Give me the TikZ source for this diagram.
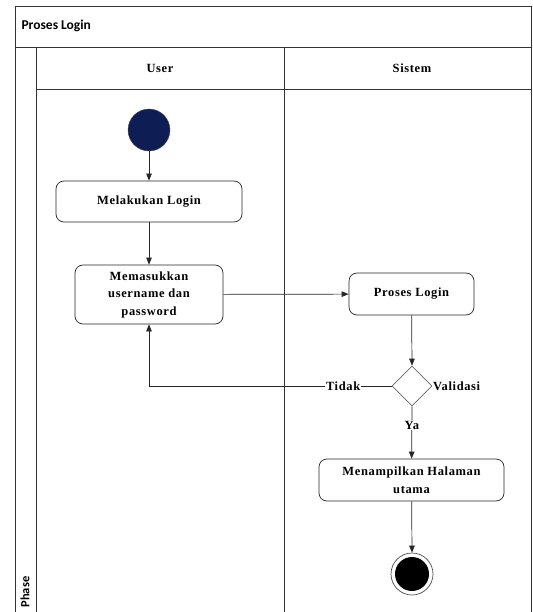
\documentclass[tikz,border=0pt]{standalone}
\usepackage{fontspec}
\setmainfont{Liberation Serif}[LetterSpace=5]
\newfontfamily\titlefont{Carlito}
\usetikzlibrary{shapes.geometric,arrows.meta}
\begin{document}
\begin{tikzpicture}[x=1pt,y=-1pt,
  lane/.style={draw=black!80,line width=0.8pt},
  act/.style={draw=black!85,rounded corners=8pt,line width=0.7pt,font=\bfseries\fontsize{12.5}{17.5}\selectfont,align=center,inner sep=0pt},
  flow/.style={draw=black!85,line width=0.7pt,-{Triangle[length=7pt,width=5.5pt]}},
  lbl/.style={font=\bfseries\fontsize{12.5}{14}\selectfont,inner sep=1pt,fill=white}
]
\useasboundingbox (0,0) rectangle (532,612);
\begin{scope}
\clip (0,0) rectangle (532,612);
% swimlane frame
\draw[lane] (15,620) -- (15,6) -- (540,6);
\draw[lane] (15,47) -- (540,47);
\draw[lane] (36,47) -- (36,620);
\draw[lane] (36,89) -- (540,89);
\draw[lane] (284,47) -- (284,620);
\draw[lane] (531,6) -- (531,620);
\end{scope}
\node[anchor=west,font=\titlefont\bfseries\fontsize{13.5}{15}\selectfont] (title) at (18,26) {Proses Login};
\node[font=\bfseries\fontsize{12.5}{14}\selectfont] (huser) at (160,68) {User};
\node[font=\bfseries\fontsize{12.5}{14}\selectfont] (hsys) at (412,68) {Sistem};
\node[rotate=90,anchor=west,font=\titlefont\bfseries\fontsize{12.5}{14}\selectfont] (phase) at (25,611) {Phase};

% nodes
\node[circle,fill={rgb,255:red,14;green,29;blue,84},draw=black!70,minimum size=42pt,inner sep=0pt] (start) at (149,130) {};
\node[act,minimum width=186pt,minimum height=41pt] (login) at (149,201.5) {Melakukan Login};
\node[act,minimum width=148pt,minimum height=59pt] (input) at (149,294.5) {Memasukkan\\username dan\\password};
\node[act,minimum width=125pt,minimum height=42pt] (proses) at (411.5,294) {Proses Login};
\node[diamond,draw=black!60,line width=0.7pt,minimum width=40pt,minimum height=40pt,inner sep=0pt,aspect=1] (valid) at (412,386) {};
\node[lbl,anchor=west] (vl) at (432,386) {Validasi};
\node[act,minimum width=185pt,minimum height=42pt] (tampil) at (411.5,480) {Menampilkan Halaman\\utama};
\node[circle,draw=black!70,line width=0.7pt,minimum size=42pt,inner sep=0pt] (end) at (412,574) {};
\node[circle,fill=black,minimum size=34pt,inner sep=0pt] (endin) at (412,574) {};
\coordinate (corner) at (149,386);

% edges
\draw[flow] (start) -- (login);
\draw[flow] (login) -- (input);
\draw[flow] (input) -- (proses);
\draw[flow] (proses) -- (valid.north);
\draw[flow] (valid.south) -- node[lbl,pos=0.36] {Ya} (tampil);
\draw[flow] (tampil) -- (end.north);
\draw[flow] (valid.west) -- node[lbl,pos=0.2] {Tidak} (corner) -- (input.south);
\end{tikzpicture}
\end{document}
